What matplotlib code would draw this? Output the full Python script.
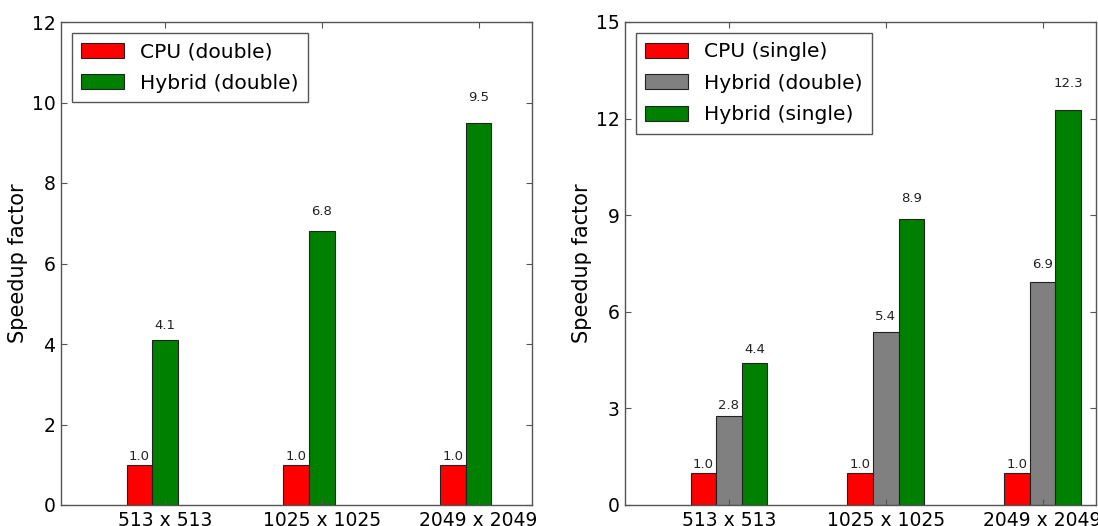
import matplotlib
matplotlib.use("Agg")
import matplotlib.pyplot as plt
import numpy as np

categories = ["513 x 513", "1025 x 1025", "2049 x 2049"]

# Left panel (double precision)
left_cpu_double = [1.0, 1.0, 1.0]
left_hybrid_double = [4.1, 6.8, 9.5]

# Right panel
right_cpu_single = [1.0, 1.0, 1.0]
right_hybrid_double = [2.75, 5.37, 6.92]
right_hybrid_single = [4.42, 8.87, 12.28]

RED = "#ff0000"
GREEN = "#008000"
GREY = "#808080"
SPINE = "#555555"

plt.rcParams["font.family"] = ["DejaVu Sans"]

fig = plt.figure(figsize=(10.98, 5.26), dpi=100)
fig.patch.set_facecolor("white")

ax1 = fig.add_axes([61 / 1098, 1 - 505 / 526, 470.7 / 1098, 483 / 526])
ax2 = fig.add_axes([625 / 1098, 1 - 505 / 526, 470.7 / 1098, 483 / 526])

w = 0.163
x = np.arange(len(categories))


def label_bars(ax, rects):
    for r in rects:
        h = r.get_height()
        ax.text(r.get_x() + r.get_width() / 2.0, 1.05 * h, "%.1f" % h,
                ha="center", va="bottom", fontsize=9.5, color="#222222")


def style_axes(ax):
    for s in ax.spines.values():
        s.set_color(SPINE)
        s.set_linewidth(1.0)
    ax.tick_params(direction="in", top=True, right=True, length=4,
                   color=SPINE, labelsize=13.5, pad=4)
    ax.set_ylabel("Speedup factor", fontsize=15, labelpad=3)
    ax.set_xticks(x)
    ax.set_xticklabels(categories)
    ax.set_xlim(-0.662, 2.338)


# Left panel
r1 = ax1.bar(x - w, left_cpu_double, w, color=RED, edgecolor="#222222",
             linewidth=0.8, label="CPU (double)")
r2 = ax1.bar(x, left_hybrid_double, w, color=GREEN, edgecolor="#222222",
             linewidth=0.8, label="Hybrid (double)")
label_bars(ax1, r1)
label_bars(ax1, r2)
ax1.set_ylim(0, 12)
ax1.set_yticks(np.arange(0, 13, 2))
style_axes(ax1)

# Right panel
r3 = ax2.bar(x - w, right_cpu_single, w, color=RED, edgecolor="#222222",
             linewidth=0.8, label="CPU (single)")
r4 = ax2.bar(x, right_hybrid_double, w, color=GREY, edgecolor="#222222",
             linewidth=0.8, label="Hybrid (double)")
r5 = ax2.bar(x + w, right_hybrid_single, w, color=GREEN, edgecolor="#222222",
             linewidth=0.8, label="Hybrid (single)")
label_bars(ax2, r3)
label_bars(ax2, r4)
label_bars(ax2, r5)
ax2.set_ylim(0, 15)
ax2.set_yticks(np.arange(0, 16, 3))
style_axes(ax2)

for ax in (ax1, ax2):
    leg = ax.legend(loc="upper left", fontsize=14.6, fancybox=False,
                    framealpha=1, edgecolor=SPINE, borderaxespad=0.55,
                    handlelength=2.1, handleheight=0.75, labelspacing=0.62,
                    handletextpad=0.8, borderpad=0.45)
    leg.get_frame().set_linewidth(1.0)

fig.savefig("out.png", dpi=100, facecolor="white")
